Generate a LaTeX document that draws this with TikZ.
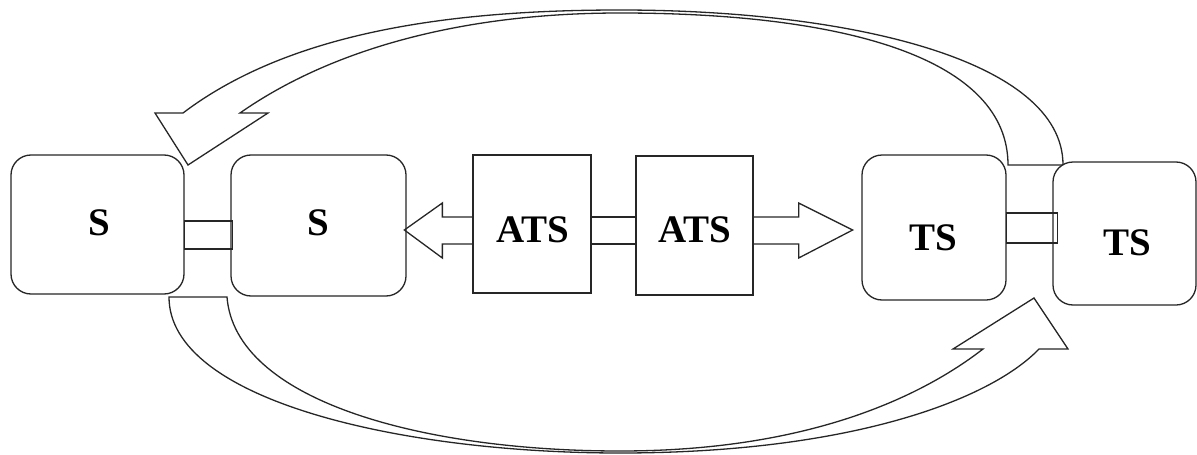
\documentclass[tikz,border=0pt]{standalone}
\usepackage{fontspec}
\setmainfont{Liberation Serif}
\usetikzlibrary{calc}
\begin{document}
\begin{tikzpicture}[x=1pt,y=-1pt, line width=1.3pt,
  rbox/.style={draw=black!85, rounded corners=20pt, fill=white, inner sep=0pt},
  sbox/.style={draw=black!85, fill=white, inner sep=0pt},
  lbl/.style={font=\fontsize{39}{44}\selectfont\bfseries, inner sep=0pt, text=black},
  link/.style={draw=black!85},
  band/.style={draw=black!85, line join=miter, fill=white}]
\useasboundingbox (0,0) rectangle (1197,455);

% curved return arrow over the top (TS -> S)
\draw[band] (1008,165) -- (1063,165)
  .. controls (1063,60) and (850,10) .. (620,10)
  .. controls (450,10) and (290,32) .. (183,113)
  -- (155,113) -- (188,165) -- (268,113) -- (240,113)
  .. controls (330,50) and (460,13) .. (620,13)
  .. controls (850,13) and (1008,60) .. (1008,165) -- cycle;

% curved arrow under the bottom (S -> TS)
\draw[band] (169,297) -- (227,297)
  .. controls (235,400) and (420,451) .. (620,451)
  .. controls (820,451) and (930,390) .. (983,349)
  -- (953,349) -- (1034,298) -- (1068,349) -- (1039,349)
  .. controls (990,400) and (850,453) .. (620,453)
  .. controls (400,453) and (169,400) .. (169,297) -- cycle;

% boxes
\node[rbox, minimum width=173pt, minimum height=139pt] (s1) at (97.5,224.5) {};
\node[rbox, minimum width=175pt, minimum height=141pt] (s2) at (318.5,225.5) {};
\node[sbox, minimum width=118pt, minimum height=138pt] (ats1) at (532,224) {};
\node[sbox, minimum width=117pt, minimum height=139pt] (ats2) at (694.5,225.5) {};
\node[rbox, minimum width=144pt, minimum height=145pt] (ts1) at (934,227.5) {};
\node[rbox, minimum width=143pt, minimum height=143pt] (ts2) at (1124.5,233.5) {};

% labels
\node[lbl] (ls1) at (99,223) {S};
\node[lbl] (ls2) at (318,223) {S};
\node[lbl] (lats1) at (533,230) {ATS};
\node[lbl] (lats2) at (695,230) {ATS};
\node[lbl] (lts1) at (933,238) {TS};
\node[lbl] (lts2) at (1127,243) {TS};

% links between neighbouring boxes
\draw[link] ($(s1.east)+(0,-3.5)$) rectangle ($(s2.west)+(2,23.5)$);
\draw[link] ($(ts1.east)+(0,-14.5)$) rectangle ($(ts2.west)+(5,9.5)$);
\draw[link] ($(ats1.east)+(0,-7)$) -- ($(ats2.west)+(0,-8.5)$);
\draw[link] ($(ats1.east)+(0,20)$) -- ($(ats2.west)+(0,18.5)$);

% hollow straight arrows
\draw[link, line join=miter] ($(ats1.west)+(0,-7)$) -- ++(-30,0) -- ++(0,-14) -- ++(-38,27)
  -- ++(38,28) -- ++(0,-14) -- ++(30,0);
\draw[link, line join=miter] ($(ats2.east)+(0,-8.5)$) -- ++(45,0) -- ++(0,-14) -- ++(54,27)
  -- ++(-54,28) -- ++(0,-14) -- ++(-45,0);
\end{tikzpicture}
\end{document}
